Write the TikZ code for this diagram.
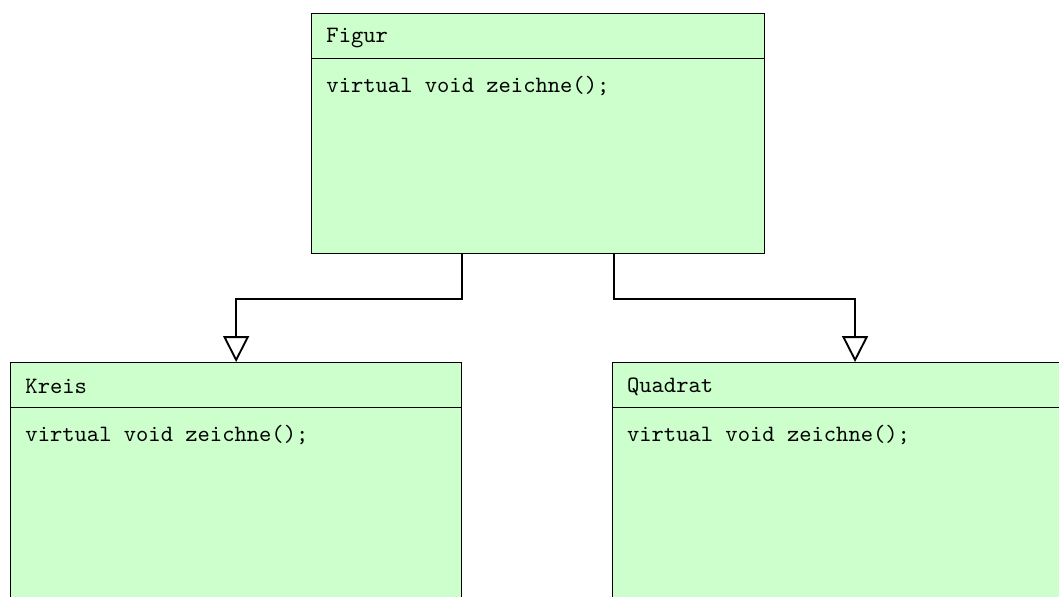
\documentclass[tikz,border=0pt]{standalone}
\usetikzlibrary{positioning, arrows.meta}
\definecolor{umlgreen}{RGB}{204,255,204}
\tikzstyle{arrow} = [thick,-{Triangle[open,width=11pt,length=11pt]}]

\begin{document}
\begin{tikzpicture}
   \tikzset{klasse/.style={draw, rectangle, fill=umlgreen, anchor=north west, minimum width=6.8cm, minimum height=3.6cm, inner sep=0pt},
   titel/.style={anchor=west, font=\ttfamily, inner sep=0pt},
   }
 \clip (0,0) rectangle (15.885,-8.94);

 \node [klasse] (figur) at (4.665,-0.195) {};
 \node [klasse, minimum width=6.77cm] (kreis) at (0.15,-5.43) {};
 \node [klasse, minimum width=7.29cm, right=2.24cm of kreis.north east, anchor=north west] (quadrat) {};

 % Trennlinien
 \draw ([yshift=-0.675cm]figur.north west) -- ([yshift=-0.675cm]figur.north east);
 \draw ([yshift=-0.675cm]kreis.north west) -- ([yshift=-0.675cm]kreis.north east);
 \draw ([yshift=-0.675cm]quadrat.north west) -- ([yshift=-0.675cm]quadrat.north east);

 \node [titel] (figurname) at ([xshift=0.225cm, yshift=-0.37cm]figur.north west) {Figur};
 \node [titel] (figurop) at ([xshift=0.225cm, yshift=-1.1cm]figur.north west) {virtual void zeichne();};
 \node [titel] (kreisname) at ([xshift=0.225cm, yshift=-0.37cm]kreis.north west) {Kreis};
 \node [titel] (kreisop) at ([xshift=0.225cm, yshift=-1.1cm]kreis.north west) {virtual void zeichne();};
 \node [titel] (quadratname) at ([xshift=0.225cm, yshift=-0.37cm]quadrat.north west) {Quadrat};
 \node [titel] (quadratop) at ([xshift=0.225cm, yshift=-1.1cm]quadrat.north west) {virtual void zeichne();};

 \coordinate (fl) at ([xshift=2.265cm]figur.south west);
 \coordinate (fr) at ([xshift=-2.265cm]figur.south east);
 \draw [arrow] (fl) -- ++(0,-0.675) -| (kreis.north);
 \draw [arrow] (fr) -- ++(0,-0.675) -| (quadrat.north);
\end{tikzpicture}
\end{document}
